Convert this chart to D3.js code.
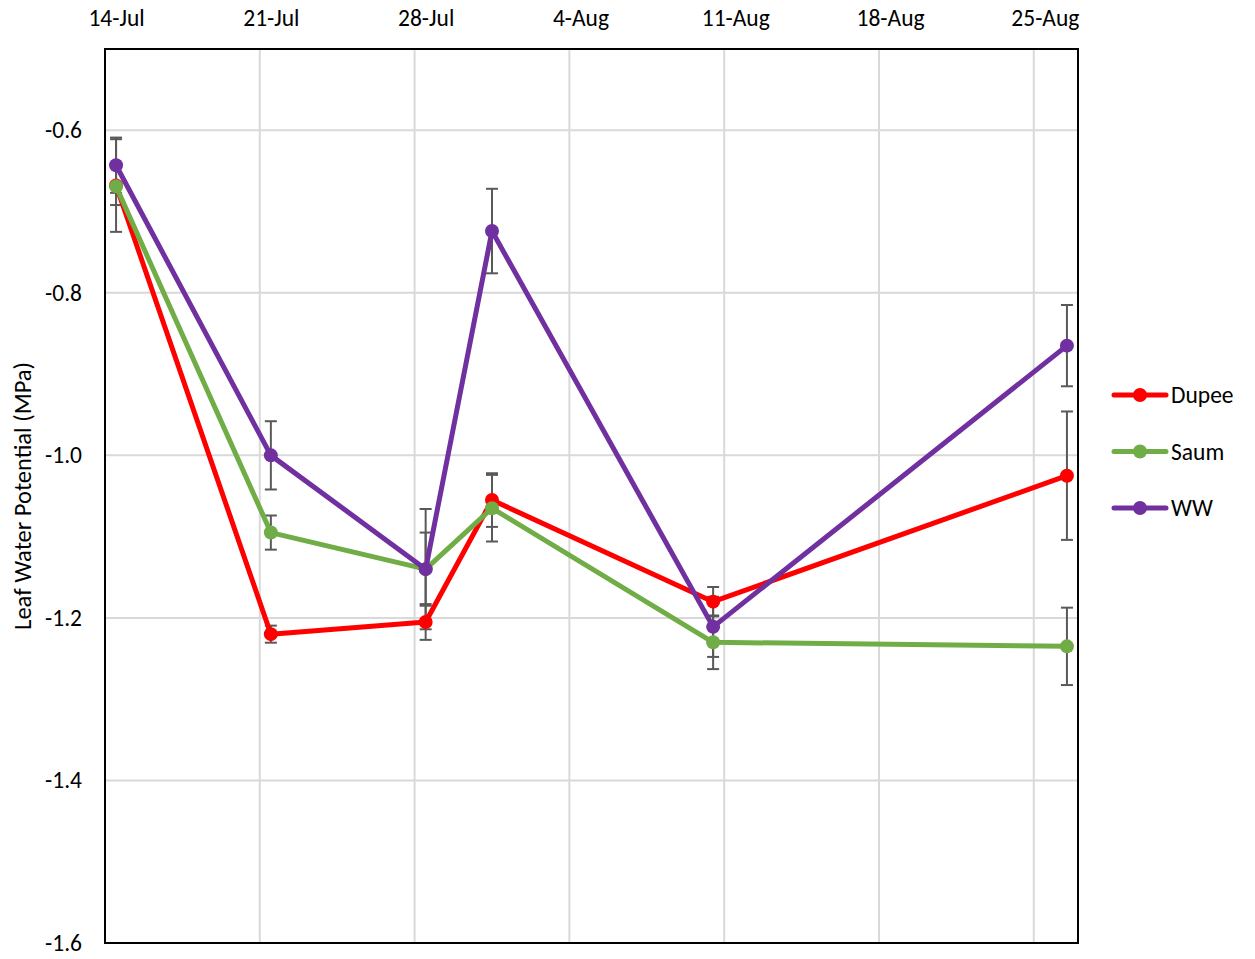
<!DOCTYPE html>
<html>
<head>
<meta charset="utf-8">
<script src="https://cdn.jsdelivr.net/npm/d3@7"></script>
<style>
  html, body { margin: 0; padding: 0; background: #fff; }
  svg { display: block; font-family: Calibri, Carlito, Lato, "Open Sans", sans-serif; }
</style>
</head>
<body>
<svg id="chart" width="1255" height="959"></svg>
<script>
// Sampling dates (day of the season)
const sampleDates = ["2019-07-14", "2019-07-21", "2019-07-28", "2019-07-31", "2019-08-10", "2019-08-26"];

// Mean leaf water potential (MPa) per cultivar
const dupee = [-0.668, -1.220, -1.205, -1.055, -1.180, -1.025];
const saum  = [-0.669, -1.095, -1.140, -1.065, -1.230, -1.235];
const ww    = [-0.643, -1.000, -1.140, -0.724, -1.211, -0.865];

// Standard errors
const dupeeSE = [0.057, 0.0105, 0.022, 0.033, 0.018, 0.079];
const saumSE  = [0.023, 0.021, 0.045, 0.041, 0.033, 0.0476];
const wwSE    = [0.034, 0.042, 0.074, 0.052, 0.037, 0.050];

const seriesNames = ["Dupee", "Saum", "WW"];
const seriesColors = ["#FF0000", "#70AD47", "#7030A0"];

// Axis ticks
const xTickLabels = ["14-Jul", "21-Jul", "28-Jul", "4-Aug", "11-Aug", "18-Aug", "25-Aug"];
const xTickDates = ["2019-07-14", "2019-07-21", "2019-07-28", "2019-08-04", "2019-08-11", "2019-08-18", "2019-08-25"];
const yTicks = [-0.6, -0.8, -1.0, -1.2, -1.4, -1.6];

const svg = d3.select("#chart");
const plot = { left: 105, right: 1078, top: 49, bottom: 943 };
const FONT = "Calibri, Carlito, Lato, sans-serif";
const TICK_SIZE = 23.5;

const parse = d3.utcParse("%Y-%m-%d");
const DAY = 864e5;
const x = d3.scaleUtc()
  .domain([parse("2019-07-14"), parse("2019-08-27")])
  .range([plot.left, plot.right]);
// Values sit in the middle of their day
const xMid = s => x(new Date(parse(s).getTime() + DAY / 2));

const y = d3.scaleLinear().domain([-1.6, -0.5]).range([plot.bottom, plot.top]);

// Gridlines
const grid = svg.append("g").attr("stroke", "#D9D9D9").attr("stroke-width", 2);
grid.selectAll("line.v").data(xTickDates.slice(1)).join("line")
  .attr("x1", d => x(parse(d))).attr("x2", d => x(parse(d)))
  .attr("y1", plot.top).attr("y2", plot.bottom);
grid.selectAll("line.h").data(yTicks.slice(0, -1)).join("line")
  .attr("x1", plot.left).attr("x2", plot.right)
  .attr("y1", d => y(d)).attr("y2", d => y(d));

// Top date axis labels, centred on their day
const xAxis = d3.axisTop(d3.scalePoint().domain(xTickLabels).range([xMid(xTickDates[0]), xMid(xTickDates[6])]))
  .tickSize(0).tickPadding(0);
const gx = svg.append("g").attr("transform", "translate(0,26)").call(xAxis);
gx.select(".domain").remove();
gx.selectAll("text").attr("font-size", TICK_SIZE).attr("fill", "#000")
  .attr("font-family", FONT).attr("dy", 0);

// Left value axis labels
const yAxis = d3.axisLeft(y).tickValues(yTicks).tickFormat(d3.format(".1f")).tickSize(0).tickPadding(23);
const gy = svg.append("g").attr("transform", `translate(${plot.left},0)`).call(yAxis);
gy.select(".domain").remove();
gy.selectAll("text").attr("font-size", TICK_SIZE).attr("fill", "#000")
  .attr("font-family", FONT)
  .text(d => d3.format(".1f")(d).replace("−", "-"));

// Axis title
svg.append("text")
  .attr("transform", `translate(31,${(plot.top + plot.bottom) / 2}) rotate(-90)`)
  .attr("text-anchor", "middle")
  .attr("font-size", 24.5)
  .attr("fill", "#000")
  .text("Leaf Water Potential (MPa)");

const series = [
  { name: seriesNames[0], color: seriesColors[0], values: dupee, se: dupeeSE },
  { name: seriesNames[1], color: seriesColors[1], values: saum, se: saumSE },
  { name: seriesNames[2], color: seriesColors[2], values: ww, se: wwSE }
];

// Error bars (behind the lines)
const eb = svg.append("g").attr("stroke", "#595959").attr("stroke-width", 2);
series.forEach(s => {
  s.values.forEach((v, i) => {
    const cx = xMid(sampleDates[i]);
    const y1 = y(v + s.se[i]), y2 = y(v - s.se[i]);
    eb.append("line").attr("x1", cx).attr("x2", cx).attr("y1", y1).attr("y2", y2);
    eb.append("line").attr("x1", cx - 6).attr("x2", cx + 6).attr("y1", y1).attr("y2", y1);
    eb.append("line").attr("x1", cx - 6).attr("x2", cx + 6).attr("y1", y2).attr("y2", y2);
  });
});

// Series lines and markers
const line = d3.line().x((d, i) => xMid(sampleDates[i])).y(d => y(d));
series.forEach(s => {
  const g = svg.append("g");
  g.append("path").datum(s.values)
    .attr("d", line).attr("fill", "none")
    .attr("stroke", s.color).attr("stroke-width", 5).attr("stroke-linejoin", "round");
  g.selectAll("circle").data(s.values).join("circle")
    .attr("cx", (d, i) => xMid(sampleDates[i])).attr("cy", d => y(d))
    .attr("r", 7).attr("fill", s.color);
});

// Plot frame
svg.append("rect")
  .attr("x", plot.left).attr("y", plot.top)
  .attr("width", plot.right - plot.left).attr("height", plot.bottom - plot.top)
  .attr("fill", "none").attr("stroke", "#000").attr("stroke-width", 2);

// Legend
const legend = svg.append("g");
series.forEach((s, i) => {
  const ly = 395 + i * 56.5;
  legend.append("line").attr("x1", 1114).attr("x2", 1166).attr("y1", ly).attr("y2", ly)
    .attr("stroke", s.color).attr("stroke-width", 5).attr("stroke-linecap", "round");
  legend.append("circle").attr("cx", 1140).attr("cy", ly).attr("r", 7).attr("fill", s.color);
  legend.append("text").attr("x", 1171).attr("y", ly).attr("dy", "0.35em")
    .attr("font-size", TICK_SIZE).attr("fill", "#000").text(s.name);
});
</script>
</body>
</html>
